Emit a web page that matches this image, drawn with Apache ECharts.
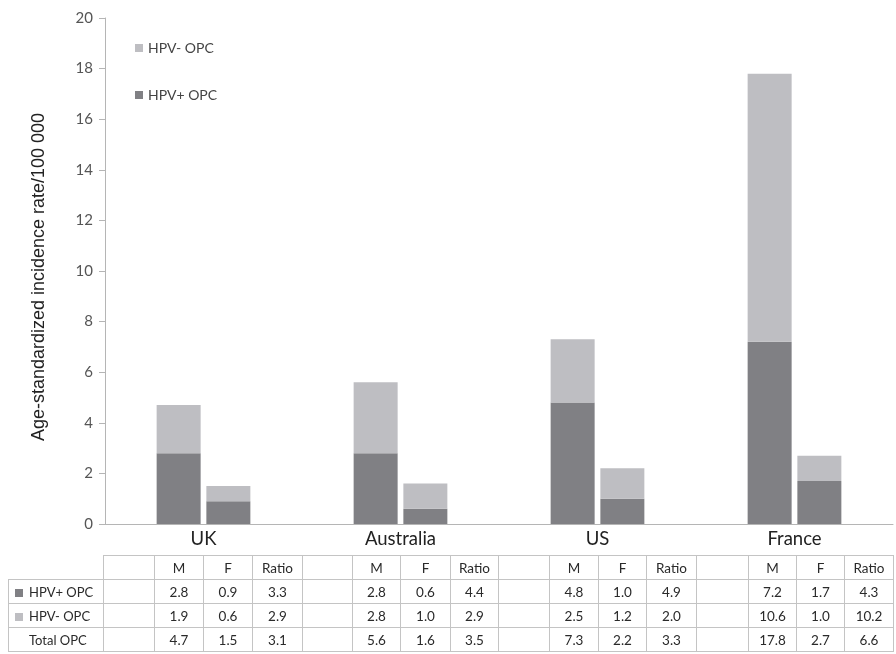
<!DOCTYPE html>
<html>
<head>
<meta charset="utf-8">
<script src="https://cdn.jsdelivr.net/npm/echarts@6/dist/echarts.min.js"></script>
<style>
html,body{margin:0;padding:0;background:#fff;}
#chart{position:absolute;left:0;top:0;width:896px;height:654px;}
#tbl{position:absolute;left:8px;top:555px;border-collapse:collapse;table-layout:fixed;font-family:Lato,"Open Sans",sans-serif;font-size:13.5px;color:#2a2a2a;}
#tbl td{border:1px solid #c4c4c4;height:23px;padding:0;text-align:center;white-space:nowrap;overflow:hidden;}
#tbl td.lab{text-align:left;padding-left:6px;font-size:13px;}
#tbl td.empty{border:none;}
.sq{display:inline-block;width:8px;height:8px;margin-right:6px;vertical-align:0px;}
</style>
</head>
<body>
<div id="chart"></div>
<table id="tbl"></table>
<script>
// ---- data ----
var countries = ['UK', 'Australia', 'US', 'France'];
var hpvPosM = [2.8, 2.8, 4.8, 7.2];
var hpvPosF = [0.9, 0.6, 1.0, 1.7];
var hpvPosRatio = [3.3, 4.4, 4.9, 4.3];
var hpvNegM = [1.9, 2.8, 2.5, 10.6];
var hpvNegF = [0.6, 1.0, 1.2, 1.0];
var hpvNegRatio = [2.9, 2.9, 2.0, 10.2];
var totalM = [4.7, 5.6, 7.3, 17.8];
var totalF = [1.5, 1.6, 2.2, 2.7];
var totalRatio = [3.1, 3.5, 3.3, 6.6];
var yTicks = [0, 2, 4, 6, 8, 10, 12, 14, 16, 18, 20];
var colHeads = ['M', 'F', 'Ratio'];
var rowLabels = ['HPV+ OPC', 'HPV- OPC', 'Total OPC'];

var DARK = '#808084';
var LIGHT = '#bebec2';
var FONT = 'Lato, "Open Sans", sans-serif';

var chart = echarts.init(document.getElementById('chart'));
var barW = 44;
function bar(name, stack, data, color) {
  return {
    name: name, type: 'bar', stack: stack, data: data,
    barWidth: barW, barGap: '13%',
    itemStyle: { color: color },
    emphasis: { disabled: true }
  };
}
chart.setOption({
  animation: false,
  backgroundColor: '#fff',
  grid: { left: 105, right: 3, top: 18, bottom: 130, containLabel: false },
  legend: {
    orient: 'vertical', left: 130, top: 36,
    itemWidth: 8, itemHeight: 8, itemGap: 33,
    icon: 'rect',
    data: ['HPV- OPC', 'HPV+ OPC'],
    textStyle: { fontFamily: FONT, fontSize: 14, color: '#444' },
    selectedMode: false
  },
  xAxis: {
    type: 'category', data: countries,
    axisLine: { lineStyle: { color: '#b5b5b5', width: 1 } },
    axisTick: { show: false },
    axisLabel: { fontFamily: FONT, fontSize: 18.5, color: '#222', margin: 6 }
  },
  yAxis: {
    type: 'value', min: yTicks[0], max: yTicks[yTicks.length - 1], interval: 2,
    name: 'Age-standardized incidence rate/100 000',
    nameLocation: 'middle', nameGap: 57,
    nameTextStyle: { fontFamily: 'Liberation Sans, Arial, sans-serif', fontSize: 18, color: '#222', padding: [0, 12, 0, 0] },
    axisLine: { show: true, lineStyle: { color: '#b5b5b5', width: 1 } },
    axisTick: { show: true, length: 6, lineStyle: { color: '#b5b5b5' } },
    splitLine: { show: false },
    axisLabel: { fontFamily: FONT, fontSize: 15, color: '#555', margin: 12 }
  },
  series: [
    bar('HPV+ OPC', 'M', hpvPosM, DARK),
    bar('HPV- OPC', 'M', hpvNegM, LIGHT),
    bar('HPV+ OPC', 'F', hpvPosF, DARK),
    bar('HPV- OPC', 'F', hpvNegF, LIGHT)
  ]
});

// ---- table ----
var colW = [51, 49, 49, 50, 50, 48, 50, 48, 51, 49, 48, 50, 52, 48, 48, 49];
var tbl = document.getElementById('tbl');
var cg = document.createElement('colgroup');
var c0 = document.createElement('col'); c0.style.width = '95px'; cg.appendChild(c0);
colW.forEach(function (w) { var c = document.createElement('col'); c.style.width = w + 'px'; cg.appendChild(c); });
tbl.appendChild(cg);
function fmt(v) { return v.toFixed(1); }
function addRow(labelHtml, cells, labelEmpty) {
  var tr = document.createElement('tr');
  var td0 = document.createElement('td');
  if (labelEmpty) { td0.className = 'empty'; } else { td0.className = 'lab'; td0.innerHTML = labelHtml; }
  tr.appendChild(td0);
  cells.forEach(function (t) { var td = document.createElement('td'); td.textContent = t; tr.appendChild(td); });
  tbl.appendChild(tr);
}
var head = [];
countries.forEach(function () { head.push(''); colHeads.forEach(function (h) { head.push(h); }); });
addRow('', head, true);
var rows = [[hpvPosM, hpvPosF, hpvPosRatio], [hpvNegM, hpvNegF, hpvNegRatio], [totalM, totalF, totalRatio]];
var sqColors = [DARK, LIGHT, null];
rows.forEach(function (r, ri) {
  var cells = [];
  countries.forEach(function (c, ci) {
    cells.push('');
    r.forEach(function (arr) { cells.push(fmt(arr[ci])); });
  });
  var lab = sqColors[ri] ? '<span class="sq" style="background:' + sqColors[ri] + '"></span>' + rowLabels[ri]
                         : '<span class="sq"></span>' + rowLabels[ri];
  addRow(lab, cells, false);
});
</script>
</body>
</html>
